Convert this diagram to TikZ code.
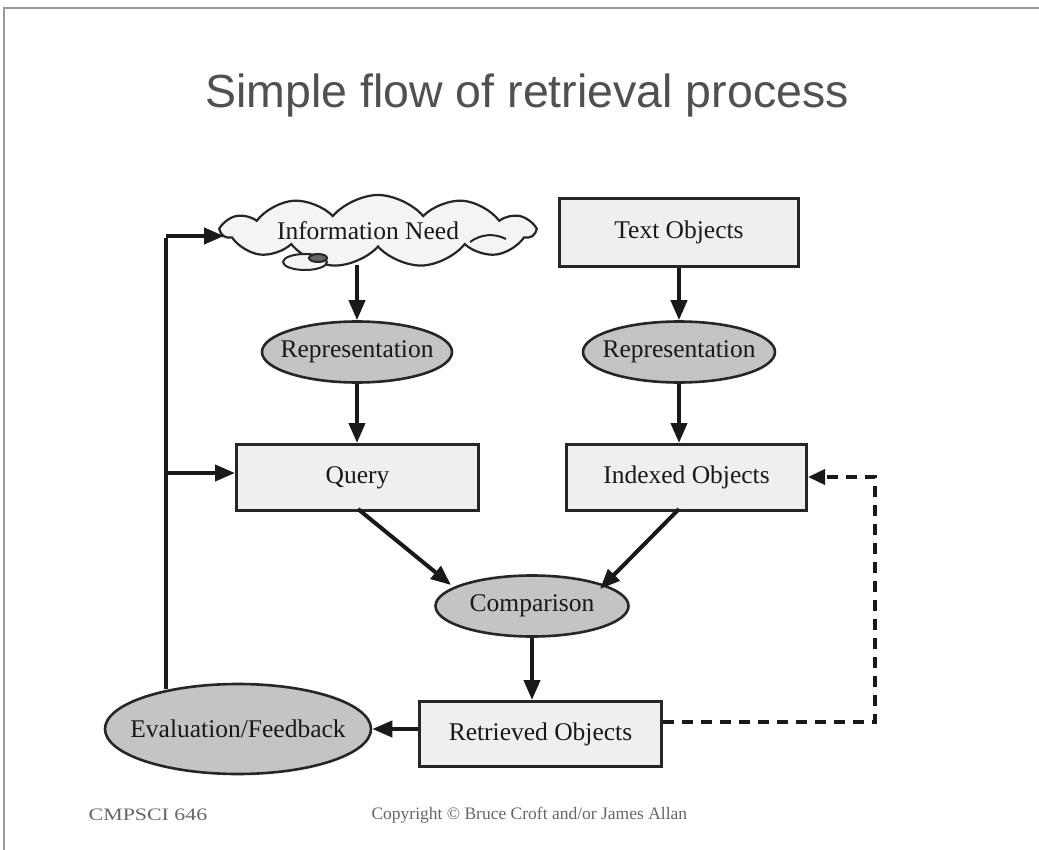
\documentclass[tikz,border=0pt]{standalone}
\usepackage{fontspec}
\setmainfont{Liberation Serif}
\newfontfamily\titlefont{Liberation Sans}
\usetikzlibrary{shapes.geometric,shapes.symbols,arrows.meta}
\definecolor{boxfill}{HTML}{EFEFEF}
\definecolor{ovalfill}{HTML}{C4C4C4}
\definecolor{cloudfill}{HTML}{F4F4F4}
\definecolor{titlegray}{HTML}{505050}
\tikzset{
  lbl/.style={font=\fontsize{25.5}{28}\selectfont, text=black!90},
  rectbox/.style={draw=black!85, line width=3pt, fill=boxfill, rectangle, anchor=north west, inner sep=0pt},
  oval/.style={draw=black!85, line width=2.6pt, fill=ovalfill, ellipse, inner sep=0pt},
  flow/.style={line width=4pt, black!90, -{Triangle[length=20pt,width=16pt]}},
  link/.style={line width=4pt, black!90},
  back/.style={line width=3.6pt, black!90, dash pattern=on 11pt off 8pt, -{Triangle[length=17pt,width=15pt]}},
  foot/.style={font=\fontsize{17.5}{20}\selectfont, text=black!60, anchor=west}
}
\begin{document}
\begin{tikzpicture}[x=1pt,y=-1pt]
\useasboundingbox (0,0) rectangle (1039,850);
\fill[white] (0,0) rectangle (1039,850);
% slide frame
\draw[black!40, line width=1.5pt] (4,850) -- (4,8) -- (1039,8);

\node[font=\titlefont\fontsize{46.5}{52}\selectfont, text=titlegray] (title) at (527,95) {Simple flow of retrieval process};

% top row
\node[cloud, cloud puffs=11, cloud puff arc=100, aspect=4.4, draw=black!85, line width=2.2pt, fill=cloudfill,
      minimum width=312pt, minimum height=72pt, inner sep=0pt] (need) at (378,231) {};
\draw[black!85, line width=2pt, fill=cloudfill] (305,262) ellipse (22pt and 8pt);
\draw[black!85, line width=2pt, fill=black!60] (318,258) ellipse (9pt and 4pt);
\draw[black!85, line width=2pt] (470,242) .. controls (481,234) and (494,233) .. (506,239);
\node[lbl] (needtxt) at (368,231) {Information Need};

\node[rectbox, minimum width=239pt, minimum height=68pt] (text) at (558,197) {};
\node[lbl] at (text.center) {Text Objects};

\node[oval, minimum width=190pt, minimum height=61pt] (repL) at (357,352) {};
\node[lbl] at (repL.center) {Representation};
\node[oval, minimum width=192pt, minimum height=61pt] (repR) at (679,352) {};
\node[lbl] at (repR.center) {Representation};

\node[rectbox, minimum width=242pt, minimum height=66pt] (query) at (235,443) {};
\node[lbl] at (query.center) {Query};
\node[rectbox, minimum width=240pt, minimum height=66pt] (indexed) at (565,443) {};
\node[lbl] at (indexed.center) {Indexed Objects};

\node[oval, minimum width=193pt, minimum height=61pt] (comp) at (532,606) {};
\node[lbl] at (comp.center) {Comparison};

\node[rectbox, minimum width=242pt, minimum height=65pt] (ret) at (418,700) {};
\node[lbl] at (ret.center) {Retrieved Objects};

\node[oval, minimum width=266pt, minimum height=90pt] (eval) at (238,729) {};
\node[lbl] at (eval.center) {Evaluation/Feedback};

% main flow
\draw[flow] (357,265) -- (repL.north);
\draw[flow] (repL.south) -- (query.north -| repL);
\draw[flow] (text.south -| repR) -- (repR.north);
\draw[flow] (repR.south) -- (indexed.north -| repR);
\draw[flow] (358,509) -- (451,585);
\draw[flow] (679,509) -- (600,589);
\draw[flow] (comp.south) -- (ret.north -| comp);
\draw[flow] (ret.west |- eval) -- (eval.east);

% feedback loop
\coordinate (fbBase) at (166,689);
\coordinate (fbTop) at (166,236);
\coordinate (fbMid) at (166,473);
\draw[link] (fbBase) -- ([yshift=-2pt]fbTop);
\draw[flow] (fbTop) -- (224,236);
\draw[flow] (fbMid) -- (query.west |- fbMid);

% relevance loop back to the index
\coordinate (dashA) at (875,722);
\coordinate (dashB) at (875,477);
\draw[back] (ret.east |- dashA) -- (dashA) -- (dashB) -- (indexed.east |- dashB);

% footer
\node[foot, xscale=1.25, anchor=center] (course) at (148,815) {CMPSCI 646};
\node[foot] (copy) at (368,815) {Copyright © Bruce Croft and/or James Allan};
\end{tikzpicture}
\end{document}
